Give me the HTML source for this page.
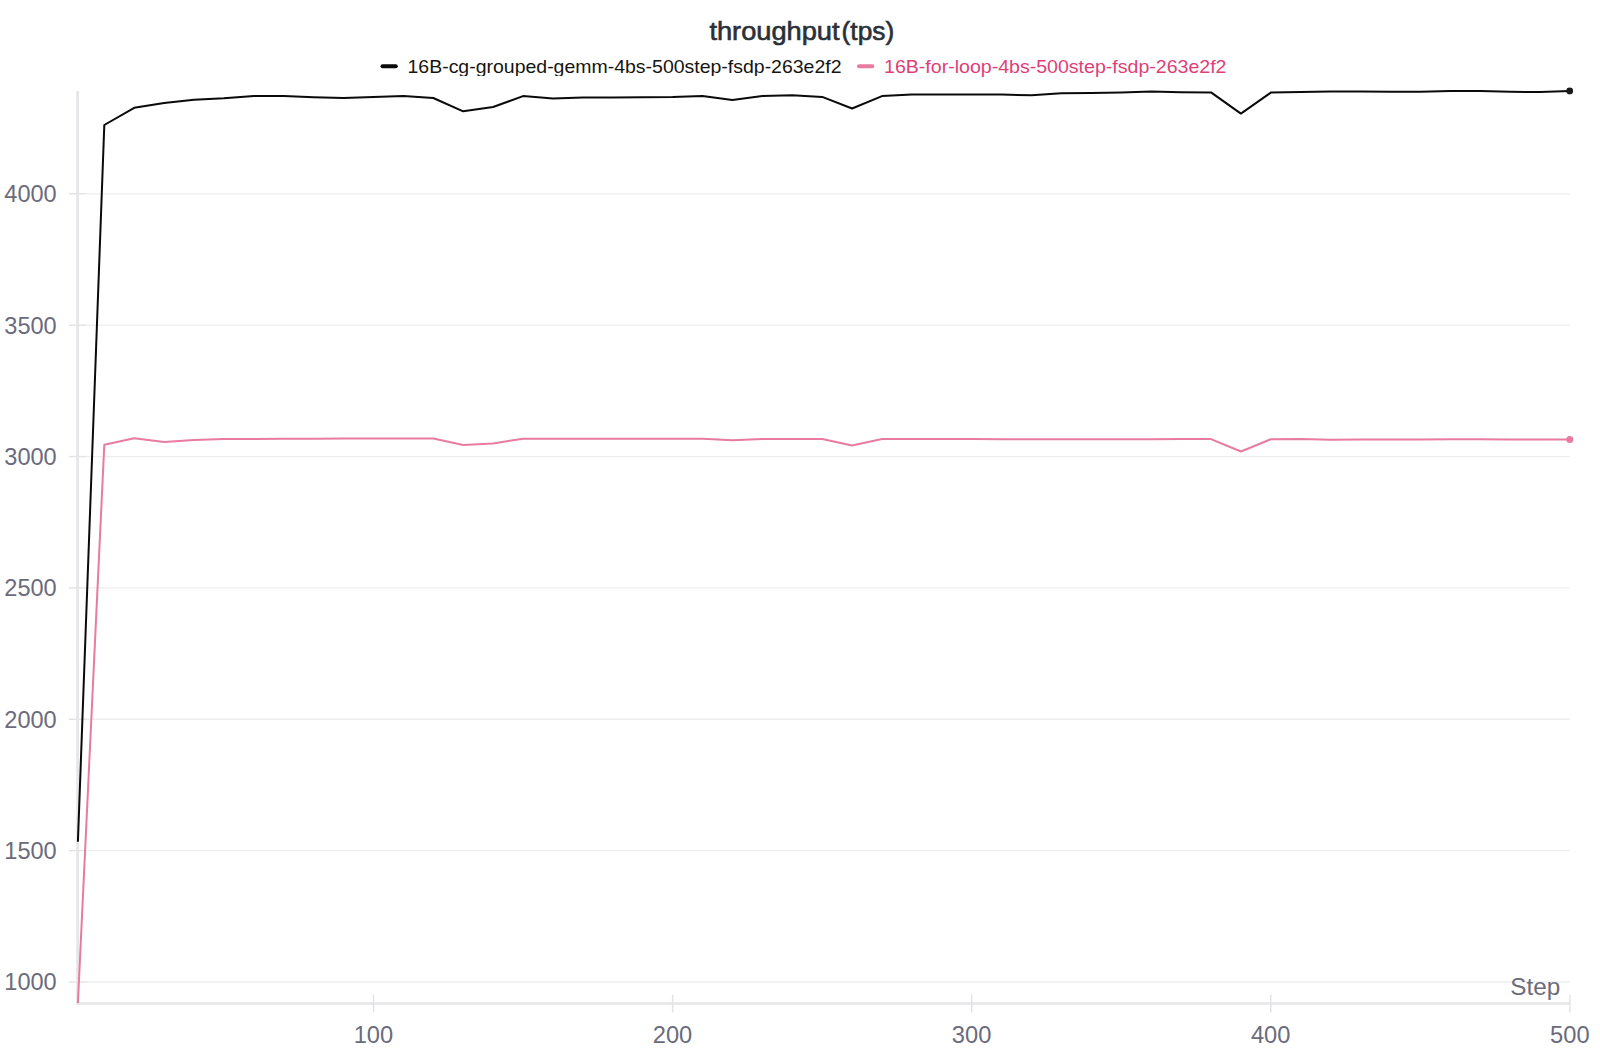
<!DOCTYPE html>
<html lang="en"><head><meta charset="utf-8"><title>throughput(tps)</title>
<style>html,body{margin:0;padding:0;background:#fff;overflow:hidden}svg{display:block}</style></head>
<body>
<svg width="1600" height="1050" viewBox="0 0 1600 1050" font-family="'Liberation Sans', sans-serif">
<defs><clipPath id="lc"><rect x="370" y="50" width="480" height="26"/></clipPath></defs>
<rect width="1600" height="1050" fill="#fff"/>
<line x1="86" y1="982.00" x2="1570" y2="982.00" stroke="#eeeeef" stroke-width="1.3"/>
<line x1="68.9" y1="982.00" x2="86.3" y2="982.00" stroke="#e3e3e6" stroke-width="1.4"/>
<text x="4.3" y="990.40" font-size="24" fill="#6b6b7b" textLength="52.4" lengthAdjust="spacingAndGlyphs">1000</text>
<line x1="86" y1="850.63" x2="1570" y2="850.63" stroke="#eeeeef" stroke-width="1.3"/>
<line x1="68.9" y1="850.63" x2="86.3" y2="850.63" stroke="#e3e3e6" stroke-width="1.4"/>
<text x="4.3" y="859.03" font-size="24" fill="#6b6b7b" textLength="52.4" lengthAdjust="spacingAndGlyphs">1500</text>
<line x1="86" y1="719.27" x2="1570" y2="719.27" stroke="#eeeeef" stroke-width="1.3"/>
<line x1="68.9" y1="719.27" x2="86.3" y2="719.27" stroke="#e3e3e6" stroke-width="1.4"/>
<text x="4.3" y="727.67" font-size="24" fill="#6b6b7b" textLength="52.4" lengthAdjust="spacingAndGlyphs">2000</text>
<line x1="86" y1="587.90" x2="1570" y2="587.90" stroke="#eeeeef" stroke-width="1.3"/>
<line x1="68.9" y1="587.90" x2="86.3" y2="587.90" stroke="#e3e3e6" stroke-width="1.4"/>
<text x="4.3" y="596.30" font-size="24" fill="#6b6b7b" textLength="52.4" lengthAdjust="spacingAndGlyphs">2500</text>
<line x1="86" y1="456.54" x2="1570" y2="456.54" stroke="#eeeeef" stroke-width="1.3"/>
<line x1="68.9" y1="456.54" x2="86.3" y2="456.54" stroke="#e3e3e6" stroke-width="1.4"/>
<text x="4.3" y="464.94" font-size="24" fill="#6b6b7b" textLength="52.4" lengthAdjust="spacingAndGlyphs">3000</text>
<line x1="86" y1="325.17" x2="1570" y2="325.17" stroke="#eeeeef" stroke-width="1.3"/>
<line x1="68.9" y1="325.17" x2="86.3" y2="325.17" stroke="#e3e3e6" stroke-width="1.4"/>
<text x="4.3" y="333.57" font-size="24" fill="#6b6b7b" textLength="52.4" lengthAdjust="spacingAndGlyphs">3500</text>
<line x1="86" y1="193.81" x2="1570" y2="193.81" stroke="#eeeeef" stroke-width="1.3"/>
<line x1="68.9" y1="193.81" x2="86.3" y2="193.81" stroke="#e3e3e6" stroke-width="1.4"/>
<text x="4.3" y="202.21" font-size="24" fill="#6b6b7b" textLength="52.4" lengthAdjust="spacingAndGlyphs">4000</text>
<line x1="77.6" y1="90.9" x2="77.6" y2="1004.9" stroke="#e6e6e9" stroke-width="2.7"/>
<line x1="76.25" y1="1003.5" x2="1570.4" y2="1003.5" stroke="#e6e6e9" stroke-width="2.7"/>
<line x1="373.50" y1="994.7" x2="373.50" y2="1012.4" stroke="#e3e3e6" stroke-width="1.5"/>
<text x="373.40" y="1043.4" font-size="24" fill="#6b6b7b" text-anchor="middle" textLength="39.5" lengthAdjust="spacingAndGlyphs">100</text>
<line x1="672.60" y1="994.7" x2="672.60" y2="1012.4" stroke="#e3e3e6" stroke-width="1.5"/>
<text x="672.50" y="1043.4" font-size="24" fill="#6b6b7b" text-anchor="middle" textLength="39.5" lengthAdjust="spacingAndGlyphs">200</text>
<line x1="971.70" y1="994.7" x2="971.70" y2="1012.4" stroke="#e3e3e6" stroke-width="1.5"/>
<text x="971.60" y="1043.4" font-size="24" fill="#6b6b7b" text-anchor="middle" textLength="39.5" lengthAdjust="spacingAndGlyphs">300</text>
<line x1="1270.80" y1="994.7" x2="1270.80" y2="1012.4" stroke="#e3e3e6" stroke-width="1.5"/>
<text x="1270.70" y="1043.4" font-size="24" fill="#6b6b7b" text-anchor="middle" textLength="39.5" lengthAdjust="spacingAndGlyphs">400</text>
<line x1="1569.90" y1="994.7" x2="1569.90" y2="1012.4" stroke="#e3e3e6" stroke-width="1.5"/>
<text x="1569.80" y="1043.4" font-size="24" fill="#6b6b7b" text-anchor="middle" textLength="39.5" lengthAdjust="spacingAndGlyphs">500</text>
<text x="1510.2" y="994.6" font-size="24.8" fill="#6b6b7b" textLength="50" lengthAdjust="spacingAndGlyphs">Step</text>
<polyline points="77.9,841.7 104.3,125.0 134.2,107.8 164.1,102.9 194.0,99.7 223.9,98.2 253.9,95.9 283.8,96.1 313.7,97.2 343.6,97.9 373.5,96.9 403.4,96.1 433.3,98.0 463.2,111.3 493.1,107.0 523.0,96.1 553.0,98.4 582.9,97.6 612.8,97.6 642.7,97.2 672.6,97.1 702.5,95.9 732.4,99.9 762.3,95.9 792.2,95.2 822.2,96.9 852.1,108.5 882.0,96.1 911.9,94.4 941.8,94.4 971.7,94.6 1001.6,94.6 1031.5,95.2 1061.4,93.3 1091.3,92.9 1121.2,92.4 1151.2,91.6 1181.1,92.2 1211.0,92.4 1240.9,113.6 1270.8,92.6 1300.7,92.1 1330.6,91.6 1360.5,91.6 1390.4,91.8 1420.4,91.7 1450.3,91.1 1480.2,90.9 1510.1,91.7 1540.0,92.1 1569.9,90.9" fill="none" stroke="#0a0a0a" stroke-width="2" stroke-linejoin="round"/>
<polyline points="77.9,1003.0 104.3,444.8 134.2,438.2 164.1,441.9 194.0,439.9 223.9,439.1 253.9,438.9 283.8,438.8 313.7,438.8 343.6,438.6 373.5,438.6 403.4,438.6 433.3,438.6 463.2,444.9 493.1,443.4 523.0,438.8 553.0,438.8 582.9,438.8 612.8,438.8 642.7,438.8 672.6,438.8 702.5,438.8 732.4,440.2 762.3,438.9 792.2,438.9 822.2,438.9 852.1,445.5 882.0,439.1 911.9,439.1 941.8,439.1 971.7,439.1 1001.6,439.2 1031.5,439.2 1061.4,439.2 1091.3,439.2 1121.2,439.3 1151.2,439.3 1181.1,439.1 1211.0,439.1 1240.9,451.5 1270.8,439.3 1300.7,439.1 1330.6,439.7 1360.5,439.5 1390.4,439.4 1420.4,439.4 1450.3,439.3 1480.2,439.3 1510.1,439.4 1540.0,439.5 1569.9,439.6" fill="none" stroke="#e87b9f" stroke-width="2" stroke-linejoin="round"/>
<circle cx="1569.7" cy="90.9" r="3.4" fill="#1a1a1a"/>
<circle cx="1569.8" cy="439.6" r="3.5" fill="#e87b9f"/>
<text y="40.1" font-size="25.2" fill="#2b3038" stroke="#2b3038" stroke-width="0.6"><tspan x="709.4" textLength="130.2" lengthAdjust="spacingAndGlyphs">throughput</tspan><tspan x="841.6" textLength="52.6" lengthAdjust="spacingAndGlyphs">(tps)</tspan></text>
<line x1="382.5" y1="66.2" x2="395.8" y2="66.2" stroke="#0a0a0a" stroke-width="4" stroke-linecap="round"/>
<g clip-path="url(#lc)"><text x="407.5" y="72.7" font-size="18.5" fill="#15150f" textLength="434" lengthAdjust="spacingAndGlyphs">16B-cg-grouped-gemm-4bs-500step-fsdp-263e2f2</text></g>
<line x1="859" y1="66.2" x2="872.3" y2="66.2" stroke="#e87b9f" stroke-width="4" stroke-linecap="round"/>
<text x="884" y="72.7" font-size="18.5" fill="#de3f76" textLength="342.5" lengthAdjust="spacingAndGlyphs">16B-for-loop-4bs-500step-fsdp-263e2f2</text>
</svg>
</body></html>
